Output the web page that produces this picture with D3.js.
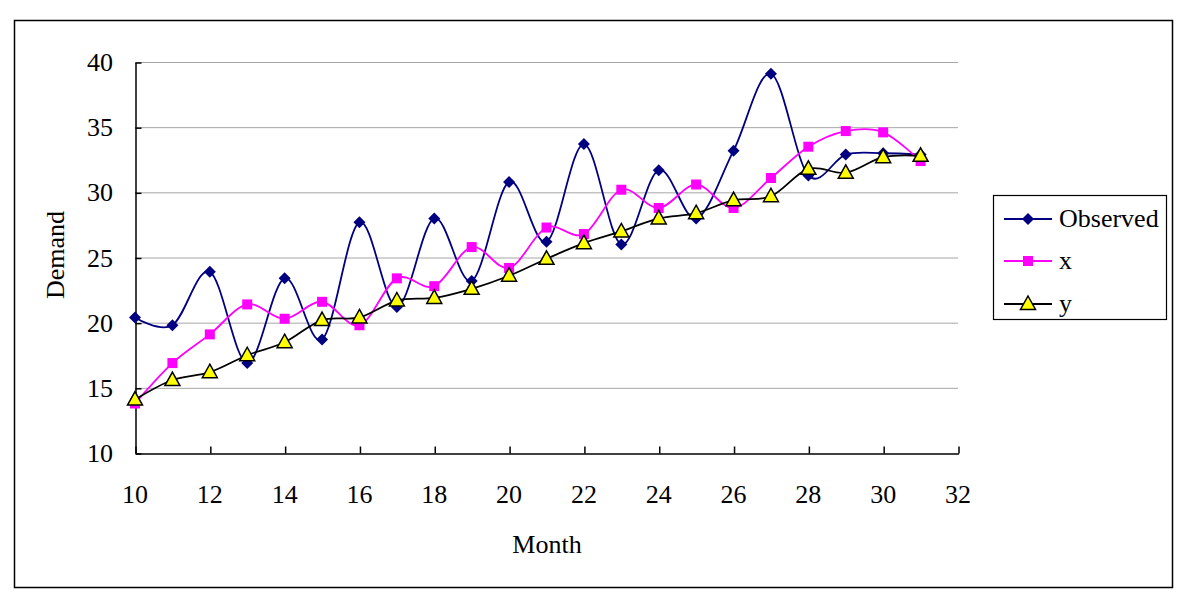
<!DOCTYPE html>
<html>
<head>
    <title>Demand by Month</title>
    <script src="https://d3js.org/d3.v7.min.js"></script>
    <style>
        body {
            margin: 0;
            background: #fff;
            font-family: "Liberation Serif", "Times New Roman", serif;
        }
        .tick-label {
            font-size: 26px;
            fill: #000;
        }
        .axis-title {
            font-size: 26px;
            fill: #000;
        }
        .legend-text {
            font-size: 26px;
            fill: #000;
        }
    </style>
</head>
<body>
    <div id="chart"></div>
    <script>
        // months 10..31
        const months = [10, 11, 12, 13, 14, 15, 16, 17, 18, 19, 20,
                        21, 22, 23, 24, 25, 26, 27, 28, 29, 30, 31];
        const observed = [20.4, 19.8, 23.9, 16.9, 23.4, 18.7, 27.7, 21.2, 28.0, 23.2, 30.8,
                          26.2, 33.7, 26.0, 31.7, 28.0, 33.2, 39.1, 31.3, 32.9, 33.0, 32.9];
        const xSeries = [13.8, 16.9, 19.1, 21.4, 20.3, 21.6, 19.8, 23.4, 22.8, 25.8, 24.2,
                         27.3, 26.8, 30.2, 28.8, 30.6, 28.8, 31.1, 33.5, 34.7, 34.6, 32.4];
        const ySeries = [14.1, 15.6, 16.2, 17.5, 18.5, 20.2, 20.4, 21.7, 21.9, 22.6, 23.6,
                         24.9, 26.1, 27.0, 28.0, 28.4, 29.4, 29.7, 31.8, 31.5, 32.7, 32.8];
        const xTicks = [10, 12, 14, 16, 18, 20, 22, 24, 26, 28, 30, 32];
        const yTicks = [10, 15, 20, 25, 30, 35, 40];
        const seriesNames = ["Observed", "x", "y"];

        const width = 1204, height = 616;
        const plot = { left: 135, right: 958, top: 62, bottom: 453 };

        const svg = d3.select("#chart").append("svg")
            .attr("width", width)
            .attr("height", height);

        // outer frame
        svg.append("rect")
            .attr("x", 14.5).attr("y", 20.5)
            .attr("width", 1158).attr("height", 567)
            .attr("fill", "#fff")
            .attr("stroke", "#000")
            .attr("stroke-width", 1.5);

        const x = d3.scaleLinear().domain([10, 32]).range([plot.left, plot.right]);
        const y = d3.scaleLinear().domain([10, 40]).range([plot.bottom, plot.top]);

        // gridlines
        svg.selectAll(".gridline")
            .data(yTicks.filter(d => d > 10))
            .enter()
            .append("line")
            .attr("class", "gridline")
            .attr("x1", plot.left).attr("x2", plot.right)
            .attr("y1", d => y(d) + 0.5).attr("y2", d => y(d) + 0.5)
            .attr("stroke", "#a6a6a6")
            .attr("stroke-width", 1);

        // axes (ticks inside the plot)
        const yAxis = svg.append("g")
            .attr("transform", `translate(${plot.left + 0.5},0.5)`)
            .call(d3.axisRight(y).tickValues(yTicks).tickSize(6).tickSizeOuter(0).tickFormat(""));
        const xAxis = svg.append("g")
            .attr("transform", `translate(0.5,${plot.bottom + 0.5})`)
            .call(d3.axisTop(x).tickValues(xTicks).tickSize(7).tickSizeOuter(0).tickFormat(""));
        [yAxis, xAxis].forEach(g => {
            g.selectAll("path, line").attr("stroke", "#000").attr("stroke-width", 1.5);
        });

        // tick labels
        svg.selectAll(".ylab")
            .data(yTicks)
            .enter()
            .append("text")
            .attr("class", "tick-label")
            .attr("x", 113)
            .attr("y", d => y(d) + 9)
            .attr("text-anchor", "end")
            .text(d => d);

        svg.selectAll(".xlab")
            .data(xTicks)
            .enter()
            .append("text")
            .attr("class", "tick-label")
            .attr("x", d => x(d))
            .attr("y", 503)
            .attr("text-anchor", "middle")
            .text(d => d);

        svg.append("text")
            .attr("class", "axis-title")
            .attr("x", 547).attr("y", 553)
            .attr("text-anchor", "middle")
            .text("Month");

        svg.append("text")
            .attr("class", "axis-title")
            .attr("transform", "translate(64,255) rotate(-90)")
            .attr("text-anchor", "middle")
            .text("Demand");

        const curve = d3.curveCardinal.tension(0);
        const line = d3.line()
            .x(d => x(d[0]))
            .y(d => y(d[1]))
            .curve(curve);

        const series = [
            { name: seriesNames[0], values: observed, color: "#000080", marker: "diamond" },
            { name: seriesNames[1], values: xSeries, color: "#ff00ff", marker: "square" },
            { name: seriesNames[2], values: ySeries, color: "#000000", marker: "triangle" }
        ];

        function drawMarker(g, type, color) {
            if (type === "diamond") {
                g.append("path")
                    .attr("d", "M0,-6L6,0L0,6L-6,0Z")
                    .attr("fill", color);
            } else if (type === "square") {
                g.append("rect")
                    .attr("x", -5).attr("y", -5)
                    .attr("width", 10).attr("height", 10)
                    .attr("fill", color);
            } else {
                g.append("path")
                    .attr("d", "M0,-8L7.5,5.5L-7.5,5.5Z")
                    .attr("fill", "#ffff00")
                    .attr("stroke", "#000")
                    .attr("stroke-width", 1.5)
                    .attr("stroke-linejoin", "miter");
            }
        }

        series.forEach(s => {
            const pts = months.map((m, i) => [m, s.values[i]]);
            svg.append("path")
                .datum(pts)
                .attr("fill", "none")
                .attr("stroke", s.color)
                .attr("stroke-width", 1.8)
                .attr("d", line);
        });

        series.forEach(s => {
            months.forEach((m, i) => {
                const g = svg.append("g")
                    .attr("transform", `translate(${x(m)},${y(s.values[i])})`);
                drawMarker(g, s.marker, s.color);
            });
        });

        // legend
        const legend = svg.append("g");
        legend.append("rect")
            .attr("x", 993.5).attr("y", 195.5)
            .attr("width", 173).attr("height", 124)
            .attr("fill", "#fff")
            .attr("stroke", "#000")
            .attr("stroke-width", 1.2);

        const legendY = [219, 261, 304];
        series.forEach((s, i) => {
            legend.append("line")
                .attr("x1", 1004).attr("x2", 1052)
                .attr("y1", legendY[i]).attr("y2", legendY[i])
                .attr("stroke", s.color)
                .attr("stroke-width", 1.8);
            const g = legend.append("g")
                .attr("transform", `translate(1028,${legendY[i]})`);
            drawMarker(g, s.marker, s.color);
            legend.append("text")
                .attr("class", "legend-text")
                .attr("x", 1059)
                .attr("y", legendY[i] + 8)
                .text(s.name);
        });
    </script>
</body>
</html>
